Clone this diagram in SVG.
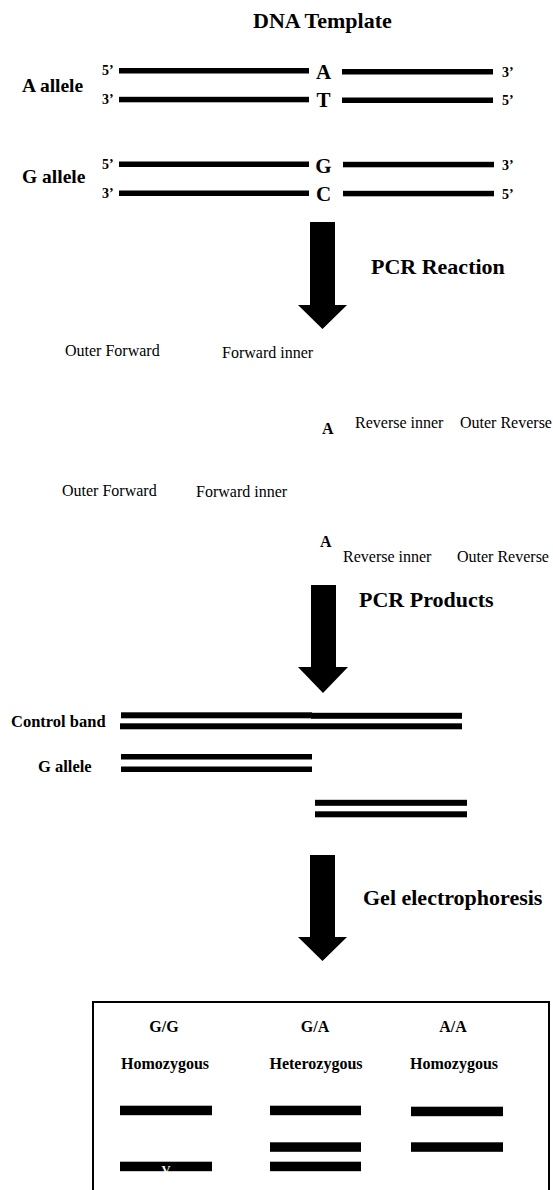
<svg xmlns="http://www.w3.org/2000/svg" width="553" height="1190" viewBox="0 0 553 1190">
<style>
text{font-family:"Liberation Serif","Times New Roman",serif;fill:#000}
.title{font-size:22px;font-weight:bold}
.lab{font-size:19.5px;font-weight:bold}
.end{font-size:14px;font-weight:bold}
.base{font-size:21px;font-weight:bold;text-anchor:middle}
.pr{font-size:16px}
.ab{font-size:16px;font-weight:bold}
.plab{font-size:16.5px;font-weight:bold}
.gel{font-size:16px;font-weight:bold;text-anchor:middle}
.bar{fill:#000}
</style>
<rect width="553" height="1190" fill="#fff"/>

<g id="template">
<text class="title" x="253" y="28">DNA Template</text>
<g id="a-allele">
<text class="lab" x="22" y="92">A allele</text>
<text class="end" x="102" y="75">5’</text>
<rect class="bar" x="119" y="68" width="190" height="5.5"/>
<text class="base" x="323.5" y="79">A</text>
<rect class="bar" x="342" y="69" width="151" height="5.5"/>
<text class="end" x="502" y="77">3’</text>
<text class="end" x="102" y="104">3’</text>
<rect class="bar" x="119" y="96.8" width="190" height="5.5"/>
<text class="base" x="323.5" y="107">T</text>
<rect class="bar" x="342" y="97.5" width="151" height="5.5"/>
<text class="end" x="502" y="105">5’</text>
</g>
<g id="g-allele">
<text class="lab" x="22" y="183">G allele</text>
<text class="end" x="102" y="168.5">5’</text>
<rect class="bar" x="119" y="161.5" width="190" height="5.5"/>
<text class="base" x="323.5" y="172.7">G</text>
<rect class="bar" x="343" y="161.8" width="151" height="5.5"/>
<text class="end" x="502" y="170">3’</text>
<text class="end" x="102" y="197.5">3’</text>
<rect class="bar" x="119" y="190.5" width="190" height="5.5"/>
<text class="base" x="323.5" y="201">C</text>
<rect class="bar" x="343" y="190.8" width="151" height="5.5"/>
<text class="end" x="502" y="199">5’</text>
</g>
</g>

<g id="connectors">
<polygon points="310,222 335,222 335,305 347,305 322.5,329 298,305 310,305"/>
<polygon points="311,585 336,585 336,667 348,667 323,693 298,667 311,667"/>
<polygon points="310,855 335,855 335,937 347,937 322.5,961 298,937 310,937"/>
</g>

<g id="label-pcr-reaction"><text class="title" x="371" y="274">PCR Reaction</text></g>

<g id="primers-1">
<text class="pr" x="65" y="356">Outer Forward</text>
<text class="pr" x="222" y="358">Forward inner</text>
<text class="ab" x="322" y="434">A</text>
<text class="pr" x="355" y="428">Reverse inner</text>
<text class="pr" x="460" y="428">Outer Reverse</text>
</g>
<g id="primers-2">
<text class="pr" x="62" y="496">Outer Forward</text>
<text class="pr" x="196" y="497">Forward inner</text>
<text class="ab" x="320" y="547">A</text>
<text class="pr" x="343" y="562">Reverse inner</text>
<text class="pr" x="457" y="562">Outer Reverse</text>
</g>

<g id="label-pcr-products"><text class="title" x="359" y="607">PCR Products</text></g>

<g id="products">
<g id="control-band">
<text class="plab" x="11" y="727">Control band</text>
<rect class="bar" x="121" y="712.3" width="191" height="6"/>
<rect class="bar" x="311" y="712.8" width="151" height="6"/>
<rect class="bar" x="120" y="723.3" width="342" height="6"/>
</g>
<g id="g-allele-product">
<text class="plab" x="38" y="772">G allele</text>
<rect class="bar" x="121" y="754" width="191" height="5.5"/>
<rect class="bar" x="121" y="766.5" width="191" height="5.5"/>
</g>
<g id="a-allele-product">
<rect class="bar" x="315" y="799.8" width="152" height="6"/>
<rect class="bar" x="315" y="811.3" width="152" height="6"/>
</g>
</g>

<g id="label-gel"><text class="title" x="363" y="905">Gel electrophoresis</text></g>

<g id="gel">
<rect x="93" y="1002" width="456" height="200" fill="none" stroke="#000" stroke-width="2"/>
<g id="lane-gg">
<text class="gel" x="164" y="1032">G/G</text>
<text class="gel" x="165" y="1069">Homozygous</text>
<rect class="bar" x="120" y="1105.7" width="92" height="9.5"/>
<rect class="bar" x="120" y="1161.7" width="92" height="9.5"/>
<text x="166" y="1173.5" font-size="12.5" font-weight="bold" text-anchor="middle" style="fill:#fff">V</text>
</g>
<g id="lane-ga">
<text class="gel" x="315" y="1032">G/A</text>
<text class="gel" x="316" y="1069">Heterozygous</text>
<rect class="bar" x="270" y="1105.7" width="91" height="9.5"/>
<rect class="bar" x="270" y="1142.3" width="91" height="9.5"/>
<rect class="bar" x="270" y="1161.7" width="91" height="9.5"/>
</g>
<g id="lane-aa">
<text class="gel" x="453" y="1032">A/A</text>
<text class="gel" x="454" y="1069">Homozygous</text>
<rect class="bar" x="411" y="1106.7" width="92" height="9.5"/>
<rect class="bar" x="411" y="1142.3" width="92" height="9.5"/>
</g>
</g>
</svg>
